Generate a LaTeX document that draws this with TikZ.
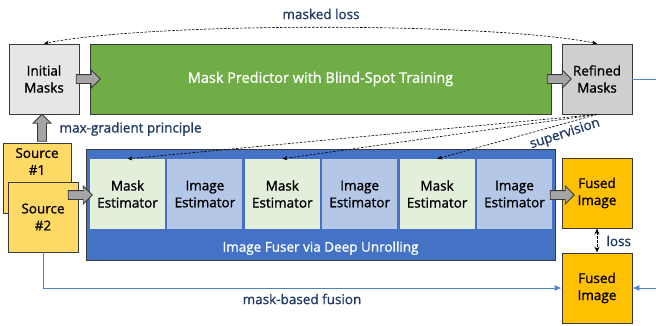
\documentclass[tikz,border=0pt]{standalone}
\usepackage{fontspec}
\setmainfont{Open Sans}[FakeBold=1.1]
\usepackage{tikz}
\usetikzlibrary{arrows.meta, shapes.arrows, positioning}

\definecolor{boxline}{HTML}{3A3A3A}
\definecolor{initgray}{HTML}{E7E6E6}
\definecolor{refgray}{HTML}{D0CECE}
\definecolor{predgreen}{HTML}{70AD47}
\definecolor{srcyellow}{HTML}{FFD966}
\definecolor{fusedorange}{HTML}{FFC000}
\definecolor{fuserblue}{HTML}{4472C4}
\definecolor{maskgreen}{HTML}{E2EFDA}
\definecolor{imgblue}{HTML}{B4C7E7}
\definecolor{arrowgray}{HTML}{A5A5A5}
\definecolor{labelnavy}{HTML}{1F3864}
\definecolor{linkblue}{HTML}{4F81CF}

\begin{document}
\begin{tikzpicture}[x=1pt, y=-1pt,
  font=\fontsize{13.5}{17}\selectfont,
  plainbox/.style={draw=boxline, line width=0.9pt, minimum width=70pt, minimum height=70pt, inner sep=0pt, align=center},
  estbox/.style={minimum width=75pt, minimum height=70pt, inner sep=0pt, align=center},
  blockarrow/.style={single arrow, draw=boxline, fill=arrowgray, line width=0.8pt, minimum height=24pt, inner sep=4pt, single arrow head extend=4.5pt},
  dashline/.style={dash pattern=on 2.5pt off 1.5pt, line width=0.6pt, -{Stealth[length=5pt,width=4pt]}},
  navytext/.style={text=labelnavy},
  fuseline/.style={draw=linkblue, line width=1pt, -{Latex[length=7pt,width=6pt]}}
]

\useasboundingbox (0,0) rectangle (656,325);

% Mask branch
\node[plainbox, fill=initgray] (init) at (44,79) {Initial\\Masks};
\node[plainbox, fill=predgreen, minimum width=461pt, text=white, font=\fontsize{14.5}{17}\selectfont] (pred) at (320.5,79) {Mask Predictor with Blind-Spot Training};
\node[plainbox, fill=refgray] (ref) at (597,79) {Refined\\Masks};

% Up arrow (tail hidden under source 1)
\node[blockarrow, rotate=90, minimum height=27pt] (up) at (42,130) {};
\node[navytext, anchor=west] (maxgrad) at (56,129) {max-gradient principle};

% Source images
\node[plainbox, fill=srcyellow, minimum width=68pt] (src1) at (37,178) {};
\node[below=2pt, align=center] (src1txt) at (src1.north) {Source\\\#1};
\node[plainbox, fill=srcyellow] (src2) at (43,217) {Source\\\#2};

% Image fuser with unrolled stages
\node[draw=boxline, fill=fuserblue, line width=0.9pt, minimum width=469pt, minimum height=111pt] (fuser) at (320.5,204.5) {};
\node[text=white, above=2pt] (fuserlbl) at (fuser.south) {Image Fuser via Deep Unrolling};
\foreach \i/\kind/\col in {1/Mask/maskgreen, 2/Image/imgblue, 3/Mask/maskgreen, 4/Image/imgblue, 5/Mask/maskgreen, 6/Image/imgblue}
  \node[estbox, fill=\col] (est\i) at ({127.5+77.4*(\i-1)},194) {\kind\\Estimator};

% Fused images
\node[plainbox, fill=fusedorange] (fused1) at (597,193) {Fused\\Image};
\node[plainbox, fill=fusedorange] (fused2) at (597,288) {Fused\\Image};

% Block arrows
\node[blockarrow] (arr1) at (86,79) {};
\node[blockarrow] (arr2) at (557,79) {};
\node[blockarrow] (arr3) at (78,195) {};
\node[blockarrow] (arr4) at (560,195) {};

% Masked loss
\draw[dashline, {Stealth[length=5pt,width=4pt]}-{Stealth[length=5pt,width=4pt]}] (ref.north) .. controls (490,22) and (150,22) .. (init.north);
\node[navytext] (maskedloss) at (321,14) {masked loss};

% Supervision
\foreach \i in {1,3,5}
  \draw[dashline] (ref.south) -- (est\i.north);
\node[navytext, rotate=18, inner sep=0pt] (suplbl) at (565,134) {supervision};

% Loss between fused images
\draw[dash pattern=on 2.5pt off 1.5pt, line width=1pt, {Stealth[length=6pt,width=5pt]}-{Stealth[length=6pt,width=5pt]}] (fused1.south) -- (fused2.north);
\node[navytext, anchor=west] (losslbl) at (603,241) {loss};

% Mask-based fusion
\draw[fuseline] (src2.south) |- (fused2.west);
\node[navytext] (mbf) at (302,299) {mask-based fusion};
\draw[fuseline] (ref.east) -- ++(40,0) |- (fused2.east);

\end{tikzpicture}
\end{document}
